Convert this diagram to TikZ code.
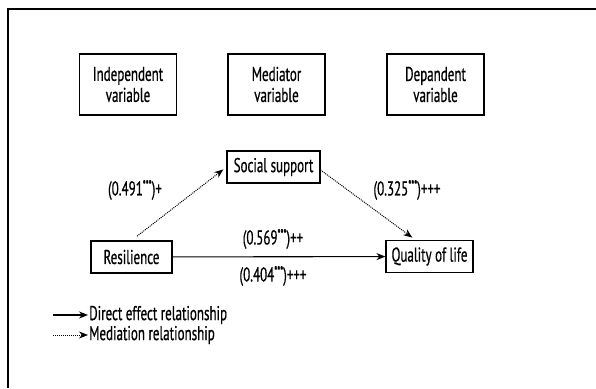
\documentclass[tikz,border=0pt]{standalone}
\usepackage{fontspec}
\setmainfont{PT Sans}[FakeStretch=0.65, FakeBold=0.6]
\usetikzlibrary{arrows.meta}
\newcommand{\fs}{\fontsize{20}{21}\selectfont}
\newcommand{\sig}{\raisebox{0.3em}{\fontsize{13}{13}\selectfont ***}}

\begin{document}
\begin{tikzpicture}[
  x=1pt, y=-1pt,
  >={Stealth[length=9pt, width=7pt]},
  font=\fs,
  box/.style={draw, line width=1.1pt, align=center, inner sep=2pt},
  head/.style={box, minimum width=97pt, minimum height=61pt},
  var/.style={box, minimum height=32pt},
  lbl/.style={inner sep=1pt},
  direct/.style={->, line width=1.1pt},
  medi/.style={->, line width=1pt, densely dotted},
]
  \useasboundingbox (0,0) rectangle (596,388);
  \draw[line width=1.1pt] (8,388) -- (8,9) -- (596,9);

  \node[head] (indep)  at (128,84.5)   {Independent\\variable};
  \node[head] (medvar) at (276.5,84.5) {Mediator\\variable};
  \node[head] (depvar) at (435.5,84.5) {Depandent\\variable};

  \node[var, minimum width=93pt] (soc) at (273.5,167)   {Social support};
  \node[var, minimum width=81pt] (res) at (131.5,257)   {Resilience};
  \node[var, minimum width=87pt] (qol) at (429.5,256.5) {Quality of life};

  \draw[medi, shorten <=7pt, shorten >=4pt] (res.north) -- (soc.west);
  \draw[medi, shorten >=4pt] ([yshift=-3pt]soc.east) -- ([xshift=-14pt]qol.north);
  \draw[direct] (res) -- (qol);

  \node[lbl] (l491) at (135,190) {(0.491\sig)+};
  \node[lbl] (l325) at (407,190) {(0.325\sig)+++};
  \node[lbl] (l569) at (273,239) {(0.569\sig)++};
  \node[lbl] (l404) at (273,276) {(0.404\sig)+++};

  % legend
  \coordinate (k1) at (53,315);
  \coordinate (k2) at (53,335);
  \node[lbl, anchor=west] (t1) at (88,315) {Direct effect relationship};
  \node[lbl, anchor=west] (t2) at (88,335) {Mediation relationship};
  \draw[direct] (k1) -- (t1.west);
  \draw[medi] (k2) -- (t2.west);
\end{tikzpicture}
\end{document}
